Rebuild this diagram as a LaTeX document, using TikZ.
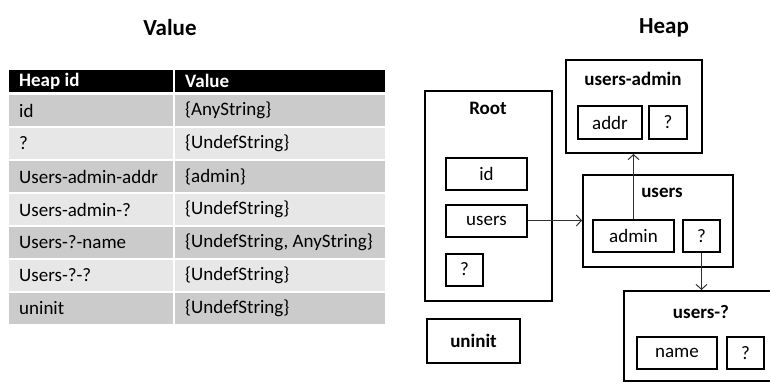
\documentclass[tikz,border=0pt]{standalone}
\usepackage{fontspec}
\setmainfont{Carlito}
\usetikzlibrary{arrows.meta}
\definecolor{rowdark}{HTML}{CBCBCB}
\definecolor{rowlight}{HTML}{E7E7E7}
\definecolor{arrowgray}{HTML}{303030}
\begin{document}
\begin{tikzpicture}[x=1pt,y=-1pt,
  txt/.style={font=\fontsize{19}{22}\selectfont, inner sep=0pt, anchor=west},
  hdr/.style={font=\fontsize{19}{22}\selectfont\bfseries, text=white, inner sep=0pt, anchor=west},
  ttl/.style={font=\fontsize{23}{26}\selectfont\bfseries, inner sep=0pt},
  btitle/.style={font=\fontsize{19}{22}\selectfont\bfseries, inner sep=0pt},
  outer/.style={draw, line width=2pt, inner sep=0pt},
  field/.style={draw, line width=2pt, inner sep=0pt, minimum height=32pt, font=\fontsize{19}{22}\selectfont},
  link/.style={draw=arrowgray, line width=1pt, -{Straight Barb[length=5pt,width=11pt,line width=1pt]}}
]
\useasboundingbox (0,0) rectangle (770,385);
% titles
\node[ttl] (tvalue) at (170,28) {Value};
\node[ttl] (theap) at (664,28) {Heap};
% table header
\fill[black] (9,70) rectangle (173,92);
\fill[black] (175,70) rectangle (385,92);
\node[hdr] (h1) at (19,81) {Heap id};
\node[hdr] (h2) at (185,81) {Value};
% table rows
\foreach \i/\c in {0/rowdark,1/rowlight,2/rowdark,3/rowlight,4/rowdark,5/rowlight,6/rowdark}{
  \fill[\c] (9,95+33*\i) rectangle (173,126+33*\i);
  \fill[\c] (175,95+33*\i) rectangle (385,126+33*\i);
}
\node[txt] (a1) at (19,110.5) {id};
\node[txt] (b1) at (185,110.5) {\{AnyString\}};
\node[txt] (a2) at (19,143.5) {?};
\node[txt] (b2) at (185,143.5) {\{UndefString\}};
\node[txt] (a3) at (19,176.5) {Users-admin-addr};
\node[txt] (b3) at (185,176.5) {\{admin\}};
\node[txt] (a4) at (19,209.5) {Users-admin-?};
\node[txt] (b4) at (185,209.5) {\{UndefString\}};
\node[txt] (a5) at (19,242.5) {Users-?-name};
\node[txt] (b5) at (185,242.5) {\{UndefString, AnyString\}};
\node[txt] (a6) at (19,275.5) {Users-?-?};
\node[txt] (b6) at (185,275.5) {\{UndefString\}};
\node[txt] (a7) at (19,308.5) {uninit};
\node[txt] (b7) at (185,308.5) {\{UndefString\}};
% heap: Root
\node[outer, minimum width=127pt, minimum height=210pt] (root) at (488.5,196) {};
\node[btitle] (roott) at (488,108) {Root};
\node[field, minimum width=81pt] (rid) at (486.5,174) {id};
\node[field, minimum width=81pt] (rusers) at (486.5,220.5) {users};
\node[field, minimum width=37pt] (rq) at (464.5,269.5) {?};
% uninit
\node[outer, minimum width=93pt, minimum height=44pt, font=\fontsize{19}{22}\selectfont\bfseries] (uninit) at (473.5,341) {uninit};
% users-admin
\node[outer, minimum width=136pt, minimum height=93pt] (ua) at (634,106.5) {};
\node[btitle] (uat) at (633,79) {users-admin};
\node[field, minimum width=64pt] (uaddr) at (610,122.5) {addr};
\node[field, minimum width=38pt] (uaq) at (668,122.5) {?};
% users
\node[outer, minimum width=150pt, minimum height=92pt] (us) at (658,221) {};
\node[btitle] (ust) at (662,193) {users};
\node[field, minimum width=81pt] (uadmin) at (633.5,236) {admin};
\node[field, minimum width=37pt] (usq) at (701.5,236) {?};
% users-?
\node[outer, minimum width=154pt, minimum height=90pt] (uq) at (701,336) {};
\node[btitle] (uqt) at (701,312) {users-?};
\node[field, minimum width=80pt] (uname) at (677,353) {name};
\node[field, minimum width=37pt] (uqq) at (745.5,353) {?};
% connectors
\draw[link] (rusers.east) -- (rusers.east -| us.west);
\draw[link] (uadmin.north) -- (uadmin.north |- ua.south);
\draw[link] (usq.south) -- (usq.south |- uq.north);
\end{tikzpicture}
\end{document}
